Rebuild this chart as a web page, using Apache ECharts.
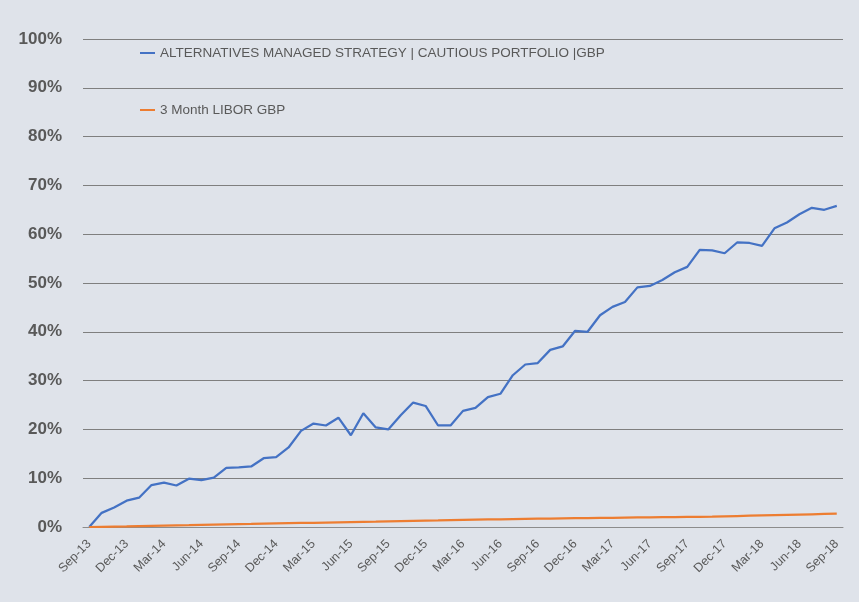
<!DOCTYPE html>
<html>
<head>
<meta charset="utf-8">
<script src="https://cdn.jsdelivr.net/npm/echarts@6/dist/echarts.min.js"></script>
<style>
  html, body { margin: 0; padding: 0; background: #dfe3ea; }
  #chart { width: 859px; height: 602px; }
</style>
</head>
<body>
<div id="chart"></div>
<script>
// monthly, Sep-13 .. Sep-18
const months = [
  'Sep-13','Oct-13','Nov-13','Dec-13','Jan-14','Feb-14','Mar-14','Apr-14','May-14','Jun-14','Jul-14','Aug-14',
  'Sep-14','Oct-14','Nov-14','Dec-14','Jan-15','Feb-15','Mar-15','Apr-15','May-15','Jun-15','Jul-15','Aug-15',
  'Sep-15','Oct-15','Nov-15','Dec-15','Jan-16','Feb-16','Mar-16','Apr-16','May-16','Jun-16','Jul-16','Aug-16',
  'Sep-16','Oct-16','Nov-16','Dec-16','Jan-17','Feb-17','Mar-17','Apr-17','May-17','Jun-17','Jul-17','Aug-17',
  'Sep-17','Oct-17','Nov-17','Dec-17','Jan-18','Feb-18','Mar-18','Apr-18','May-18','Jun-18','Jul-18','Aug-18',
  'Sep-18'
];

const strategy = [
  0.0, 2.9, 4.0, 5.4, 6.0, 8.6, 9.1, 8.5, 9.9, 9.6, 10.1, 12.1,
  12.2, 12.4, 14.1, 14.3, 16.3, 19.7, 21.2, 20.8, 22.4, 18.8, 23.3, 20.4,
  20.0, 22.9, 25.5, 24.8, 20.8, 20.8, 23.8, 24.4, 26.6, 27.3, 31.1, 33.3,
  33.6, 36.3, 37.0, 40.2, 40.0, 43.4, 45.1, 46.1, 49.1, 49.4, 50.6, 52.2,
  53.3, 56.8, 56.7, 56.1, 58.3, 58.2, 57.6, 61.2, 62.4, 64.1, 65.4, 65.0,
  65.8
];

const libor = [
  0.00, 0.05, 0.10, 0.14, 0.19, 0.24, 0.29, 0.34, 0.38, 0.43, 0.48, 0.53,
  0.58, 0.62, 0.67, 0.72, 0.77, 0.82, 0.86, 0.91, 0.96, 1.01, 1.06, 1.10,
  1.15, 1.20, 1.25, 1.30, 1.34, 1.39, 1.44, 1.49, 1.54, 1.58, 1.63, 1.68,
  1.71, 1.74, 1.77, 1.80, 1.83, 1.86, 1.89, 1.92, 1.95, 1.98, 2.01, 2.04,
  2.07, 2.10, 2.13, 2.19, 2.25, 2.31, 2.37, 2.43, 2.49, 2.55, 2.61, 2.67,
  2.73
];

const chart = echarts.init(document.getElementById('chart'));

const option = {
  backgroundColor: '#dfe3ea',
  animation: false,
  grid: {
    left: 83,
    right: 16,
    top: 39,
    bottom: 75
  },
  legend: {
    orient: 'vertical',
    left: 140,
    top: 46,
    padding: 0,
    itemGap: 43,
    itemWidth: 15,
    itemHeight: 2,
    icon: 'rect',
    textStyle: {
      color: '#595959',
      fontSize: 13.5,
      fontFamily: 'Liberation Sans'
    },
    data: [
      'ALTERNATIVES MANAGED STRATEGY | CAUTIOUS PORTFOLIO |GBP',
      '3 Month LIBOR GBP'
    ]
  },
  xAxis: {
    type: 'category',
    data: months,
    boundaryGap: true,
    axisLine: { lineStyle: { color: '#8c8c8c', width: 1 } },
    axisTick: {
      interval: 2,
      length: 5,
      lineStyle: { color: '#8c8c8c' }
    },
    axisLabel: {
      interval: 2,
      rotate: 45,
      color: '#595959',
      fontSize: 12.5,
      fontFamily: 'Liberation Sans',
      margin: 15
    }
  },
  yAxis: {
    type: 'value',
    min: 0,
    max: 100,
    interval: 10,
    axisLine: { show: false },
    axisTick: { show: false },
    axisLabel: {
      formatter: '{value}%',
      color: '#595959',
      fontSize: 17,
      fontWeight: 'bold',
      fontFamily: 'Liberation Sans',
      margin: 21
    },
    splitLine: { lineStyle: { color: '#7f7f7f', width: 1 } }
  },
  series: [
    {
      name: 'ALTERNATIVES MANAGED STRATEGY | CAUTIOUS PORTFOLIO |GBP',
      type: 'line',
      data: strategy,
      symbol: 'none',
      lineStyle: { color: '#4472c4', width: 2.25 },
      itemStyle: { color: '#4472c4' }
    },
    {
      name: '3 Month LIBOR GBP',
      type: 'line',
      data: libor,
      symbol: 'none',
      lineStyle: { color: '#ed7d31', width: 2.25 },
      itemStyle: { color: '#ed7d31' }
    }
  ]
};

chart.setOption(option);
</script>
</body>
</html>
